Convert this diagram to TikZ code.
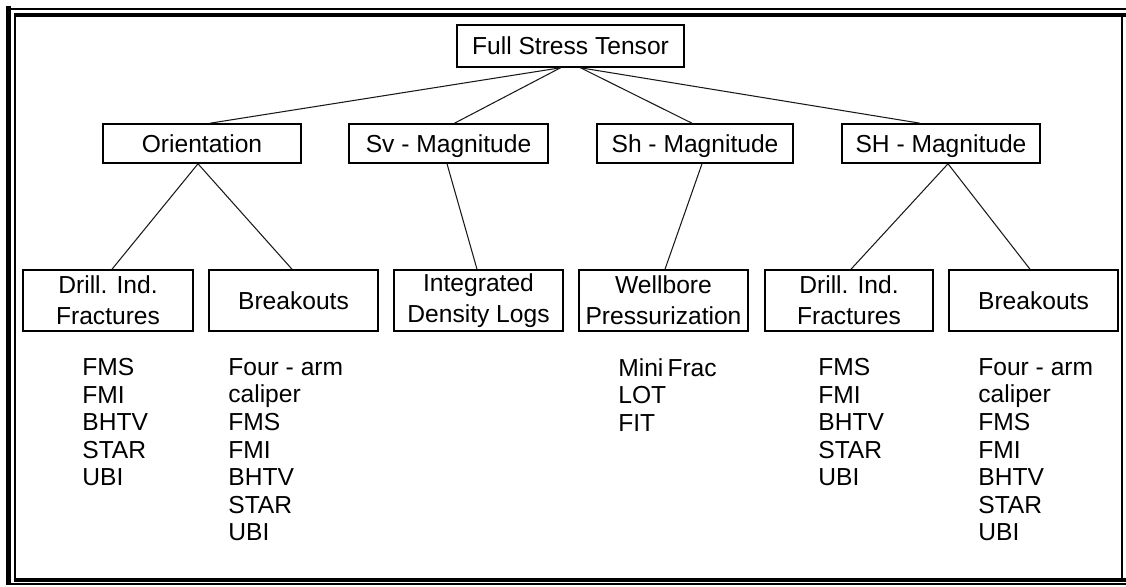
\documentclass[tikz,border=0pt]{standalone}
\usepackage{fontspec}
\setmainfont{Liberation Sans}
\usepackage{xcolor}
\usetikzlibrary{calc}
\def\normaledge{0.6pt}
\def\boxedge{0.9pt}
\definecolor{edgeblack}{rgb}{0.1,0.1,0.1}
\definecolor{frameblack}{rgb}{0,0,0}
\tikzset{
  stressbox/.style={draw, line width=\boxedge, inner sep=0pt, align=center,
    font=\fontsize{14}{17.5}\selectfont},
  onelinebox/.style={stressbox, text height=10pt, text depth=0pt},
  toollist/.style={anchor=north west, inner sep=0pt, align=left,
    font=\fontsize{14}{15.7}\selectfont},
}

\begin{document}
\begin{tikzpicture}[x = 0.02cm, y = -0.02cm]

            \useasboundingbox (0,0) rectangle (1126,587);

            % double frame
            \draw [line width=0.1cm, color=frameblack] (8.5,6) -- (8.5,585);
            \draw [line width=0.04cm, color=frameblack] (6,9) -- (1126,9);
            \draw [line width=0.04cm, color=frameblack] (6,584) -- (1126,584);
            \draw [line width=0.04cm, color=frameblack] (15,15) -- (15,580);
            \draw [line width=0.08cm, color=frameblack] (14,15) -- (1126,15);
            \draw [line width=0.04cm, color=frameblack] (1122,15) -- (1122,580);
            \draw [line width=0.08cm, color=frameblack] (14,579.5) -- (1126,579.5);

            \node[onelinebox, minimum width=4.54cm, minimum height=0.84cm] (full) at (570.5,46) {Full Stress Tensor};

            \node[onelinebox, minimum width=3.96cm, minimum height=0.78cm] (orient) at (202,143.5) {Orientation};
            \node[onelinebox, minimum width=3.98cm, minimum height=0.78cm] (sv) at (448.5,143.5) {Sv - Magnitude};
            \node[onelinebox, minimum width=3.92cm, minimum height=0.78cm] (sh) at (695,143.5) {Sh - Magnitude};
            \node[onelinebox, minimum width=3.96cm, minimum height=0.78cm] (sH) at (941,143.5) {SH - Magnitude};

            \node[stressbox, minimum width=3.4cm, minimum height=1.22cm] (drillA) at (108,300.5) {Drill. Ind.\\Fractures};
            \node[onelinebox, minimum width=3.38cm, minimum height=1.22cm] (breakA) at (293.5,300.5) {Breakouts};
            \node[stressbox, minimum width=3.38cm, minimum height=1.22cm] (integ) at (478.5,300.5) {Integrated\\Density Logs};
            \node[stressbox, minimum width=3.38cm, minimum height=1.22cm] (well) at (663.5,300.5) {Wellbore\\Pressurization};
            \node[stressbox, minimum width=3.36cm, minimum height=1.22cm] (drillB) at (849,300.5) {Drill. Ind.\\Fractures};
            \node[onelinebox, minimum width=3.38cm, minimum height=1.22cm] (breakB) at (1033.5,300.5) {Breakouts};

            \draw [line width=\normaledge, color=edgeblack] ($(full.south)+(-10,0)$) -- ($(orient.north)+(8,0)$);
            \draw [line width=\normaledge, color=edgeblack] ($(full.south)+(-10,0)$) -- ($(sv.north)+(6,0)$);
            \draw [line width=\normaledge, color=edgeblack] ($(full.south)+(10,0)$) -- ($(sh.north)+(-3,0)$);
            \draw [line width=\normaledge, color=edgeblack] ($(full.south)+(10,0)$) -- ($(sH.north)+(-21,0)$);

            \draw [line width=\normaledge, color=edgeblack] ($(orient.south)+(-4,0)$) -- ($(drillA.north)+(4,0)$);
            \draw [line width=\normaledge, color=edgeblack] ($(orient.south)+(-4,0)$) -- ($(breakA.north)+(-1.5,0)$);
            \draw [line width=\normaledge, color=edgeblack] ($(sv.south)+(-1.5,0)$) -- ($(integ.north)+(-1.5,0)$);
            \draw [line width=\normaledge, color=edgeblack] ($(sh.south)+(7,0)$) -- ($(well.north)+(1.5,0)$);
            \draw [line width=\normaledge, color=edgeblack] ($(sH.south)+(7,0)$) -- ($(drillB.north)+(2,0)$);
            \draw [line width=\normaledge, color=edgeblack] ($(sH.south)+(7,0)$) -- ($(breakB.north)+(-3.5,0)$);

            % logging tools
            \node[toollist] (toolsA) at (82,358) {FMS\\FMI\\BHTV\\STAR\\UBI};
            \node[toollist] (toolsB) at (228,358) {Four - arm\\caliper\\FMS\\FMI\\BHTV\\STAR\\UBI};
            \node[toollist] (toolsC) at (618,358) {Mini\,Frac\\LOT\\FIT};
            \node[toollist] (toolsD) at (818,358) {FMS\\FMI\\BHTV\\STAR\\UBI};
            \node[toollist] (toolsE) at (978,358) {Four - arm\\caliper\\FMS\\FMI\\BHTV\\STAR\\UBI};

        \end{tikzpicture}
\end{document}
